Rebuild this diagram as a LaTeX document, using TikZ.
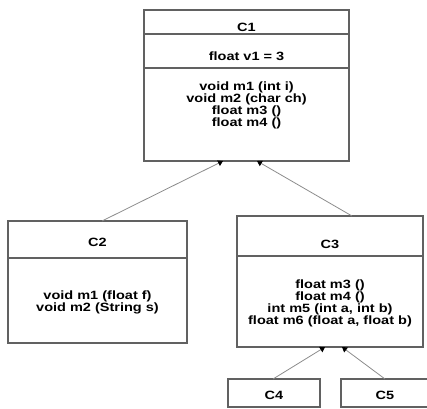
\documentclass[tikz,border=0pt]{standalone}
\usepackage{fontspec}
\newfontfamily\umlfont[FakeStretch=1.21]{Liberation Sans}
\usetikzlibrary{arrows.meta, positioning}

\begin{document}
\begin{tikzpicture}[x=1pt, y=1pt,
    font=\umlfont\bfseries\fontsize{12}{12}\selectfont,
    cbox/.style={draw=black!62, line width=1.3pt, minimum width=#1,
                 inner sep=0pt, outer sep=0pt, anchor=north},
    ctext/.style={align=center, inner sep=0pt},
    arr/.style={draw=black!45, line width=0.8pt,
                -{Triangle[length=5pt, width=6pt, color=black]}}]
    \useasboundingbox (0,0) rectangle (427,-408);
    % class C1
    \node[cbox=205pt, minimum height=24pt] (c1head) at (246.5,-10) {};
    \node[cbox=205pt, minimum height=34pt, below=0pt of c1head] (c1attr) {};
    \node[cbox=205pt, minimum height=93pt, below=0pt of c1attr] (c1ops) {};
    \node[ctext] (c1name) at ([yshift=-5pt]c1head.center) {C1};
    \node[ctext] (c1v) at ([yshift=-5pt]c1attr.center) {float v1 = 3};
    \node[ctext] (c1m) at ([yshift=9pt]c1ops.center)
         {void m1 (int i)\\void m2 (char ch)\\float m3 ()\\float m4 ()};
    % class C2
    \node[cbox=179pt, minimum height=37pt] (c2head) at (97.5,-221) {};
    \node[cbox=179pt, minimum height=85pt, below=0pt of c2head] (c2ops) {};
    \node[ctext] (c2name) at ([yshift=-2.7pt]c2head.center) {C2};
    \node[ctext] (c2m) at ([yshift=-1.5pt]c2ops.center)
         {void m1 (float f)\\void m2 (String s)};
    % class C3
    \node[cbox=186pt, minimum height=40pt] (c3head) at (330,-216) {};
    \node[cbox=186pt, minimum height=91pt, below=0pt of c3head] (c3ops) {};
    \node[ctext] (c3name) at ([yshift=-8pt]c3head.center) {C3};
    \node[ctext] (c3m) at ([yshift=-2pt]c3ops.center)
         {float m3 ()\\float m4 ()\\int m5 (int a, int b)\\float m6 (float a, float b)};
    % classes C4 and C5
    \node[cbox=92pt, minimum height=28pt] (c4box) at (274,-379) {};
    \node[cbox=88pt, minimum height=28pt] (c5box) at (385,-379) {};
    \node[ctext] (c4name) at ([yshift=-2pt]c4box.center) {C4};
    \node[ctext] (c5name) at ([yshift=-2pt]c5box.center) {C5};
    % inheritance
    \draw[arr] ([xshift=4.5pt]c2head.north) -- ([xshift=-23.5pt]c1ops.south);
    \draw[arr] ([xshift=22pt]c3head.north) -- ([xshift=10.5pt]c1ops.south);
    \draw[arr] ([xshift=-1pt]c4box.north) -- ([xshift=-5pt]c3ops.south);
    \draw[arr] (c5box.north) -- ([xshift=12pt]c3ops.south);
\end{tikzpicture}
\end{document}
